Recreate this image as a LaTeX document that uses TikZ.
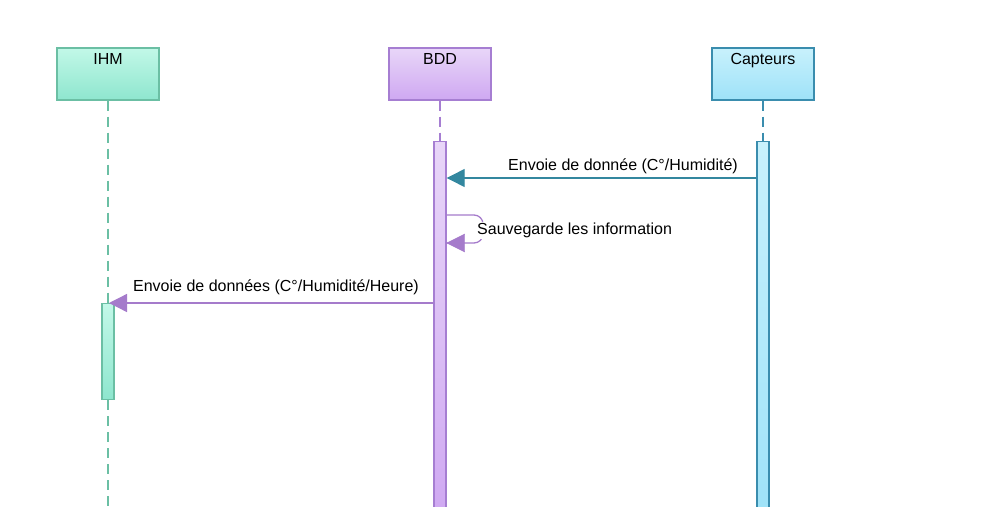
\documentclass[tikz,border=0pt]{standalone}
\usepackage{fontspec}
\setmainfont{Liberation Sans}
\usetikzlibrary{arrows.meta}
\definecolor{ihmT}{HTML}{C2F8E8}\definecolor{ihmB}{HTML}{8EE6CE}\definecolor{ihmD}{HTML}{6BBFA4}
\definecolor{bddT}{HTML}{E8D6F8}\definecolor{bddB}{HTML}{CFA8F2}\definecolor{bddD}{HTML}{A67ED2}
\definecolor{capT}{HTML}{C8F1FC}\definecolor{capB}{HTML}{9EE2F8}\definecolor{capD}{HTML}{3A8DAE}
\definecolor{arrT}{HTML}{33879F}\definecolor{arrP}{HTML}{A57BCB}
\tikzset{
  actor/.style={draw=#1D, line width=1.4pt, top color=#1T, bottom color=#1B, minimum width=102pt, minimum height=52pt, inner sep=0pt},
  actlbl/.style={font=\fontsize{16}{18}\selectfont, text=black, anchor=north},
  actbar/.style={draw=#1D, line width=1.4pt, top color=#1T, bottom color=#1B, minimum width=12pt, inner sep=0pt},
  life/.style={draw=#1D, line width=1.4pt, dash pattern=on 10pt off 6pt},
  msg/.style={line width=1.3pt},
  msglbl/.style={font=\fontsize{16}{18}\selectfont, text=black}
}
\begin{document}
\begin{tikzpicture}[x=1pt,y=-1pt]
\useasboundingbox (0,0) rectangle (985,506);
% actors
\node[actor=ihm] (ihm) at (108,74) {};
\node[actor=bdd] (bdd) at (440,74) {};
\node[actor=cap] (cap) at (763,74) {};
\node[actlbl] (ihml) at (108,50) {IHM};
\node[actlbl] (bddl) at (440,50) {BDD};
\node[actlbl] (capl) at (763,50) {Capteurs};
% lifeline end coordinates
\coordinate (ihmend) at (108,506);
% activation bars
\node[actbar=bdd, minimum height=380pt, anchor=north] (bddact) at (440,141) {};
\node[actbar=cap, minimum height=380pt, anchor=north] (capact) at (763,141) {};
\node[actbar=ihm, minimum height=96pt, anchor=north] (ihmact) at (108,303) {};
% lifelines
\draw[life=ihm] (ihm.south) -- (ihmact.north);
\draw[life=ihm] (ihmact.south) -- (ihmend);
\draw[life=bdd] (bdd.south) -- (bddact.north);
\draw[life=cap] (cap.south) -- (capact.north);
% message 1
\coordinate (m1s) at (capact.west |- 0,178);
\coordinate (m1e) at (bddact.east |- 0,178);
\draw[msg, draw=arrT, -{Triangle[length=18pt,width=18pt,fill=arrT]}] (m1s) -- (m1e);
\node[msglbl] (m1l) at (623,166.5) {Envoie de donnée (C°/Humidité)};
% self message
\coordinate (s1) at (bddact.east |- 0,215);
\coordinate (s2) at (483,215);
\coordinate (s3) at (483,243);
\coordinate (s4) at (bddact.east |- 0,243);
\draw[msg, draw=arrP, rounded corners=9pt] (s1) -- (s2) -- (s3) -- (s4);
\draw[draw=arrP, fill=arrP] (s4) -- ++(18,-9) -- ++(0,18) -- cycle;
\node[msglbl, anchor=west, fill=white, inner sep=1pt] (sl) at (476,230.5) {Sauvegarde les information};
% message 3
\coordinate (m3s) at (bddact.west |- 0,303);
\coordinate (m3e) at (109,303);
\draw[msg, draw=arrP, -{Triangle[length=18pt,width=18pt,fill=arrP]}] (m3s) -- (m3e);
\node[msglbl] (m3l) at (276,287.5) {Envoie de données (C°/Humidité/Heure)};
\end{tikzpicture}
\end{document}
